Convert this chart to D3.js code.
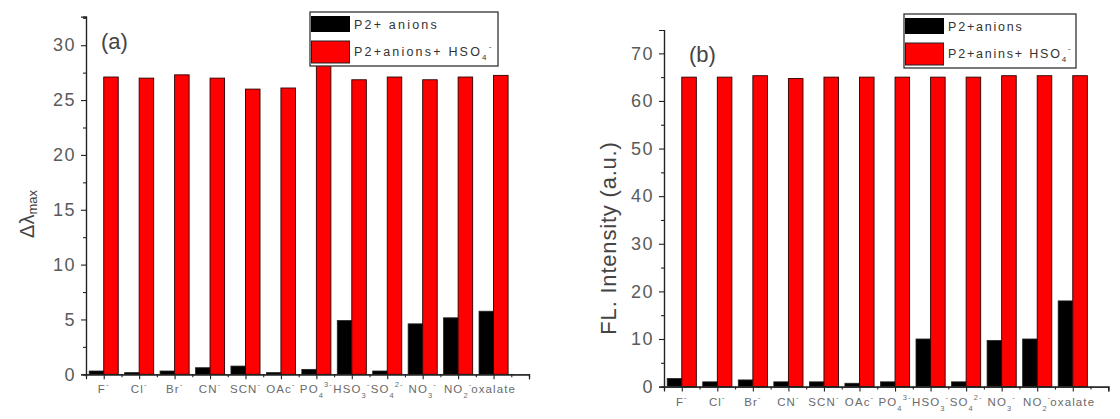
<!DOCTYPE html>
<html>
<head>
<meta charset="utf-8">
<script src="https://cdn.jsdelivr.net/npm/d3@7"></script>
<style>
  html, body { margin: 0; padding: 0; background: #fff; }
  svg { display: block; font-family: Arial, "Liberation Sans", sans-serif; }
</style>
</head>
<body>
<svg id="chart" width="1120" height="419"></svg>
<script>
// Anion labels: "_x" marks a subscript digit, "^..." marks a superscript charge
const anions = ["F^-", "Cl^-", "Br^-", "CN^-", "SCN^-", "OAc^-", "PO_4^3-",
                "HSO_3^-", "SO_4^2-", "NO_3^-", "NO_2^-", "oxalate"];

// (a) wavelength shift
const shiftAnions = [0.3, 0.15, 0.3, 0.6, 0.75, 0.15, 0.45, 4.9, 0.3, 4.6, 5.15, 5.75];
const shiftWithHSO4 = [27.1, 27.0, 27.3, 27.0, 26.0, 26.1, 28.4, 26.85, 27.1, 26.85, 27.1, 27.25];
const shiftTicks = [0, 5, 10, 15, 20, 25, 30];

// (b) fluorescence intensity
const flAnions = [1.7, 1.0, 1.4, 1.0, 1.0, 0.7, 1.0, 10.0, 1.0, 9.7, 10.0, 18.0];
const flWithHSO4 = [65.0, 65.0, 65.3, 64.7, 65.0, 65.0, 65.0, 65.0, 65.0, 65.3, 65.3, 65.3];
const flTicks = [0, 10, 20, 30, 40, 50, 60, 70];

const svg = d3.select("#chart");

function richText(sel, str, subDy, supDy, smallSize) {
  // split into plain, _digit and ^charge pieces
  const parts = str.match(/(_\d|\^[^_]+|[^_^]+)/g);
  let shift = 0;
  parts.forEach(p => {
    let kind = "n", txt = p;
    if (p[0] === "_") { kind = "sub"; txt = p.slice(1); }
    else if (p[0] === "^") { kind = "sup"; txt = p.slice(1); }
    const target = kind === "sub" ? subDy : kind === "sup" ? supDy : 0;
    const t = sel.append("tspan").text(txt).attr("dy", target - shift);
    if (kind !== "n") t.attr("font-size", smallSize);
    shift = target;
  });
}

function panel(cfg) {
  const g = svg.append("g");
  const x = d3.scaleLinear().domain([0.5, 13]).range([cfg.x0, cfg.x1]);
  const y = d3.scaleLinear().domain([0, cfg.yMax]).range([cfg.y0, cfg.y1]);
  const bw = 0.41;

  // bars
  const idx = d3.range(anions.length);
  g.selectAll("rect.blk").data(idx).join("rect")
    .attr("x", i => x(i + 1 - bw)).attr("width", i => x(i + 1) - x(i + 1 - bw))
    .attr("y", i => y(cfg.black[i])).attr("height", i => y(0) - y(cfg.black[i]))
    .attr("fill", "#000").attr("stroke", "#222").attr("stroke-width", 0.8);
  g.selectAll("rect.red").data(idx).join("rect")
    .attr("x", i => x(i + 1)).attr("width", i => x(i + 1 + bw) - x(i + 1))
    .attr("y", i => y(cfg.red[i])).attr("height", i => y(0) - y(cfg.red[i]))
    .attr("fill", "#ff0000").attr("stroke", "#2a0000").attr("stroke-width", 0.9);

  // y axis: major and minor ticks
  const yMinor = g.append("g").attr("transform", `translate(${cfg.x0},0)`)
    .call(d3.axisLeft(y).tickValues(d3.range(cfg.minorStep, cfg.yMax, cfg.minorStep * 2)).tickSize(3).tickFormat(""));
  const yMajor = g.append("g").attr("transform", `translate(${cfg.x0},0)`)
    .call(d3.axisLeft(y).tickValues(cfg.ticks).tickSize(5).tickPadding(5));
  [yMinor, yMajor].forEach(a => {
    a.select(".domain").attr("stroke", "#222").attr("stroke-width", 1.2);
    a.selectAll("line").attr("stroke", "#222").attr("stroke-width", 1.1);
  });
  yMajor.selectAll("text").attr("font-size", 18).attr("fill", "#5a5a5a")
    .attr("letter-spacing", 1.5).style("font-family", "Arial, 'Liberation Sans', sans-serif");

  // x axis: ticks at categories and between
  const xMinor = g.append("g").attr("transform", `translate(0,${cfg.y0})`)
    .call(d3.axisBottom(x).tickValues(d3.range(1.5, 13, 1)).tickSize(3).tickFormat(""));
  const xMajor = g.append("g").attr("transform", `translate(0,${cfg.y0})`)
    .call(d3.axisBottom(x).tickValues(d3.range(1, 14, 1)).tickSize(5).tickFormat(""));
  [xMinor, xMajor].forEach(a => {
    a.select(".domain").attr("stroke", "#222").attr("stroke-width", 1.2);
    a.selectAll("line").attr("stroke", "#222").attr("stroke-width", 1.1);
  });

  // category labels
  anions.forEach((a, i) => {
    const t = g.append("text").attr("x", x(i + 1)).attr("y", cfg.y0 + 19)
      .attr("text-anchor", "middle").attr("font-size", 11.5).attr("fill", "#6a6a6a")
      .attr("letter-spacing", 1.1);
    richText(t, a, 5, -6, 7.5);
  });

  // panel tag
  g.append("text").attr("x", cfg.tagX).attr("y", cfg.tagY).attr("font-size", 22)
    .attr("fill", "#444").text(cfg.tag);

  // legend
  const L = cfg.legend;
  const lg = g.append("g");
  lg.append("rect").attr("x", L.x).attr("y", L.y).attr("width", L.w).attr("height", L.h)
    .attr("fill", "#fff").attr("stroke", "#333").attr("stroke-width", 1.3);
  lg.append("rect").attr("x", L.x + 1).attr("y", L.y + 4).attr("width", 39).attr("height", 16)
    .attr("fill", "#000");
  lg.append("rect").attr("x", L.x + 1.5).attr("y", L.y + 29).attr("width", 38).attr("height", 22)
    .attr("fill", "#ff0000").attr("stroke", "#222").attr("stroke-width", 1);
  lg.append("text").attr("x", L.x + 44).attr("y", L.y + 17).attr("font-size", 12.5)
    .attr("fill", "#333").attr("letter-spacing", L.ls).text(L.labels[0]);
  const t2 = lg.append("text").attr("x", L.x + 44).attr("y", L.y + 44).attr("font-size", 12.5)
    .attr("fill", "#333").attr("letter-spacing", L.ls);
  richText(t2, L.labels[1], 4, -7, 8);

  return g;
}

panel({
  x0: 86, x1: 529, y0: 374.3, y1: 16.7, yMax: 32.6, ticks: shiftTicks, minorStep: 2.5,
  black: shiftAnions, red: shiftWithHSO4,
  tag: "(a)", tagX: 101, tagY: 49,
  legend: { x: 310, y: 12, w: 188, h: 54, ls: 2.2, labels: ["P2+ anions", "P2+anions+ HSO_4^-"] }
});

panel({
  x0: 664, x1: 1108.3, y0: 386.6, y1: 30, yMax: 74.9, ticks: flTicks, minorStep: 5,
  black: flAnions, red: flWithHSO4,
  tag: "(b)", tagX: 689, tagY: 62,
  legend: { x: 904, y: 14, w: 172, h: 54, ls: 1.8, labels: ["P2+anions", "P2+anins+ HSO_4^-"] }
});

// y axis titles
const yt1 = svg.append("text").attr("transform", "translate(34,214) rotate(-90)")
  .attr("text-anchor", "middle").attr("font-size", 20).attr("fill", "#444");
yt1.append("tspan").text("\u0394\u03bb");
yt1.append("tspan").text("max").attr("font-size", 13).attr("dy", 3);

svg.append("text").attr("transform", "translate(616,238) rotate(-90)")
  .attr("text-anchor", "middle").attr("font-size", 22).attr("fill", "#444")
  .attr("letter-spacing", 0.8).text("FL. Intensity (a.u.)");
</script>
</body>
</html>
